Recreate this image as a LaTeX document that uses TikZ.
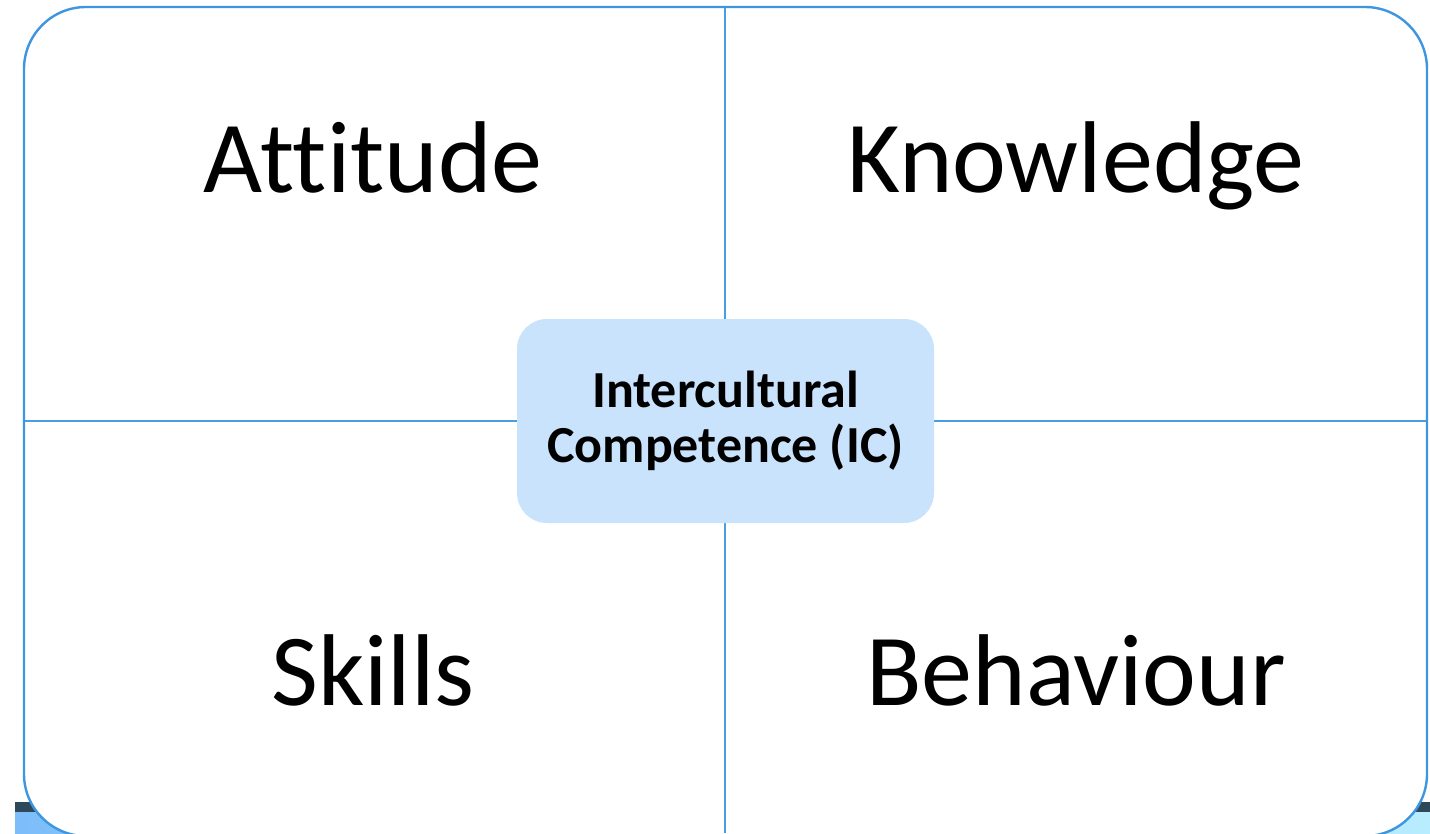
\documentclass[tikz,border=0pt]{standalone}
\usepackage{fontspec}
\setmainfont{Carlito}[Ligatures=NoCommon]
\definecolor{edgeblue}{HTML}{3F96E0}
\definecolor{gridblue}{HTML}{4A9DE0}
\definecolor{corefill}{HTML}{CAE3FC}
\definecolor{bardark}{HTML}{2E4A5A}
\definecolor{barleft}{HTML}{7DBEFA}
\definecolor{barright}{HTML}{B8ECFF}
\begin{document}
\begin{tikzpicture}[x=1pt,y=-1pt,
  quad/.style={anchor=base,font=\fontsize{102}{110}\selectfont,text=black,inner sep=0pt},
  core/.style={draw=none,fill=corefill,rounded corners=30pt,minimum width=417pt,minimum height=204pt,
    align=center,font=\fontsize{52}{55}\selectfont\bfseries,inner sep=0pt},
  grid/.style={draw=gridblue,line width=1.3pt}]
\useasboundingbox (0,0) rectangle (1430,833);
% strip along the bottom edge
\fill[bardark] (15,802) rectangle (1430,812);
\shade[left color=barleft,right color=barright] (15,812) rectangle (1430,833);
% outer frame, its lower edge running just off the page
\begin{scope}
\clip (0,0) rectangle (1430,833);
\draw[draw=edgeblue,fill=white,line width=2.4pt,rounded corners=62pt] (24,7) rectangle (1427,836);
\end{scope}
% dividing lines
\coordinate (top) at (725,8);
\coordinate (bot) at (725,833);
\coordinate (lft) at (25,421);
\coordinate (rgt) at (1426,421);
\draw[grid] (top) -- (bot);
\draw[grid] (lft) -- (rgt);
% centre box
\node[core] (ic) at (725.5,421) {Intercultural\\Competence (IC)};
% quadrant labels
\node[quad] (att) at (373,192) {Attitude};
\node[quad] (kno) at (1076,192) {Knowledge};
\node[quad] (ski) at (373,705) {Skills};
\node[quad] (beh) at (1076,705) {Behaviour};
\end{tikzpicture}
\end{document}
